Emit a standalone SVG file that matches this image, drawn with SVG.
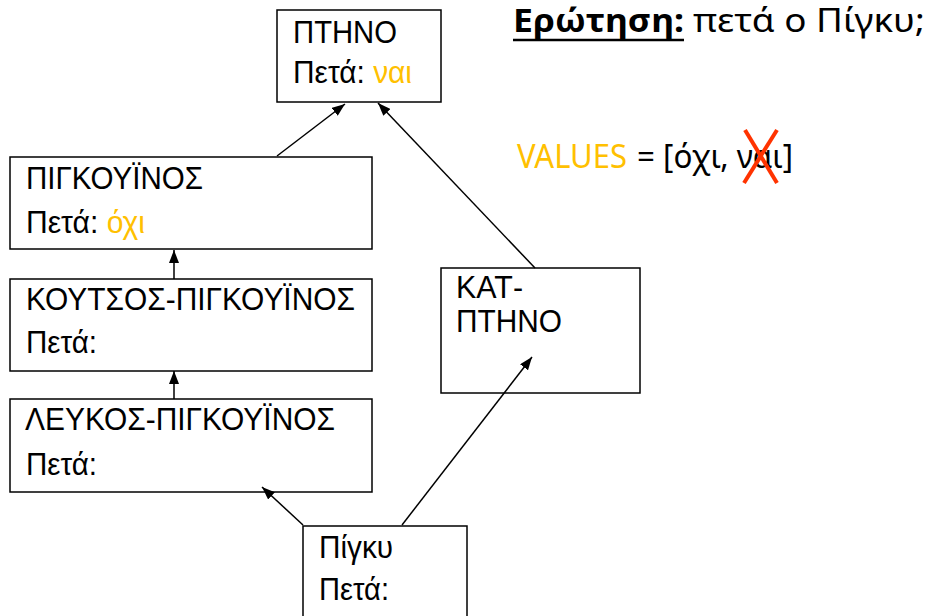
<svg xmlns="http://www.w3.org/2000/svg" width="931" height="616" viewBox="0 0 931 616">
<style>
.box{fill:#fff;stroke:#000;stroke-width:1.5}
.t{font-family:"Liberation Sans",Arial,sans-serif;font-size:32px;fill:#000}
.q{font-family:"Noto Sans","Open Sans",sans-serif;font-size:32px;fill:#000}
.y{fill:#FFC000}
.c{stroke:#000;stroke-width:1.5;fill:none}
</style>
<defs>
<marker id="ah" viewBox="0 0 13 10" refX="13" refY="5" markerWidth="13" markerHeight="10" markerUnits="userSpaceOnUse" orient="auto">
<path d="M0,0 L13,5 L0,10 Z" fill="#000"/>
</marker>
</defs>
<rect width="931" height="616" fill="#fff"/>
<g id="ptino">
<rect class="box" x="277" y="10" width="164" height="92"/>
<text class="t" x="293" y="43" textLength="104" lengthAdjust="spacingAndGlyphs">ΠΤΗΝΟ</text>
<text class="t" x="293" y="83" textLength="119" lengthAdjust="spacingAndGlyphs">Πετά: <tspan class="y">ναι</tspan></text>
</g>
<g id="pigkouinos">
<rect class="box" x="10" y="157" width="362" height="92"/>
<text class="t" x="26" y="189" textLength="177" lengthAdjust="spacingAndGlyphs">ΠΙΓΚΟΥΪΝΟΣ</text>
<text class="t" x="26" y="233" textLength="119" lengthAdjust="spacingAndGlyphs">Πετά: <tspan class="y">όχι</tspan></text>
</g>
<g id="koutsos">
<rect class="box" x="10" y="279" width="362" height="92"/>
<text class="t" x="26" y="310" textLength="329" lengthAdjust="spacingAndGlyphs">ΚΟΥΤΣΟΣ-ΠΙΓΚΟΥΪΝΟΣ</text>
<text class="t" x="26" y="353" textLength="71" lengthAdjust="spacingAndGlyphs">Πετά:</text>
</g>
<g id="leukos">
<rect class="box" x="10" y="399" width="362" height="93"/>
<text class="t" x="25" y="430" textLength="310" lengthAdjust="spacingAndGlyphs">ΛΕΥΚΟΣ-ΠΙΓΚΟΥΪΝΟΣ</text>
<text class="t" x="26" y="475" textLength="71" lengthAdjust="spacingAndGlyphs">Πετά:</text>
</g>
<g id="kat-ptino">
<rect class="box" x="441" y="268" width="199" height="125"/>
<text class="t" x="456" y="298" textLength="67" lengthAdjust="spacingAndGlyphs">ΚΑΤ-</text>
<text class="t" x="456" y="332" textLength="106" lengthAdjust="spacingAndGlyphs">ΠΤΗΝΟ</text>
</g>
<g id="pigku">
<rect class="box" x="303" y="526" width="164" height="100"/>
<text class="t" x="319" y="558" textLength="74" lengthAdjust="spacingAndGlyphs">Πίγκυ</text>
<text class="t" x="319" y="600" textLength="70" lengthAdjust="spacingAndGlyphs">Πετά:</text>
</g>
<g id="connectors">
<line class="c" x1="277" y1="156" x2="345" y2="104" marker-end="url(#ah)"/>
<line class="c" x1="535" y1="268" x2="378" y2="103" marker-end="url(#ah)"/>
<line class="c" x1="174" y1="279" x2="174" y2="250" marker-end="url(#ah)"/>
<line class="c" x1="174" y1="399" x2="174" y2="371" marker-end="url(#ah)"/>
<line class="c" x1="303" y1="525" x2="262" y2="487" marker-end="url(#ah)"/>
<line class="c" x1="402" y1="525" x2="532" y2="357" marker-end="url(#ah)"/>
</g>
<g id="question">
<text class="q" x="513" y="32" font-weight="bold" textLength="171" lengthAdjust="spacingAndGlyphs">Ερώτηση:</text>
<line x1="513" y1="40" x2="684" y2="40" stroke="#000" stroke-width="2.5"/>
<text class="q" x="693" y="32" textLength="232" lengthAdjust="spacingAndGlyphs">πετά ο Πίγκυ;</text>
</g>
<g id="values">
<text class="q y" x="517" y="168" textLength="110" lengthAdjust="spacingAndGlyphs">VALUES</text>
<text class="q" x="637" y="168" textLength="156" lengthAdjust="spacingAndGlyphs">= [όχι, ναι]</text>
<line x1="745" y1="130" x2="777" y2="183" stroke="#FF3300" stroke-width="4"/>
<line x1="777" y1="130" x2="744" y2="183" stroke="#FF3300" stroke-width="4"/>
</g>
</svg>
